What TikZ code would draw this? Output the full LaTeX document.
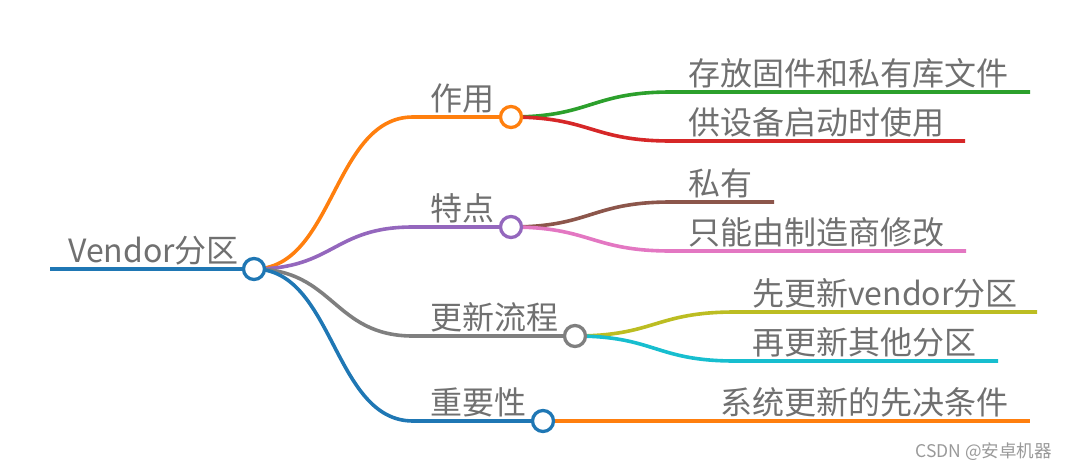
\documentclass[tikz,border=0pt]{standalone}
\usepackage{fontspec}
\setmainfont{Noto Sans CJK SC}
\usetikzlibrary{backgrounds}
\definecolor{textgray}{RGB}{112,112,112}
\definecolor{cblue}{RGB}{31,119,180}
\definecolor{corange}{RGB}{255,127,14}
\definecolor{cpurple}{RGB}{148,103,189}
\definecolor{cgray}{RGB}{127,127,127}
\definecolor{cbrown}{RGB}{140,86,75}
\definecolor{cpink}{RGB}{227,119,194}
\definecolor{colive}{RGB}{188,189,34}
\definecolor{ccyan}{RGB}{23,190,207}
\definecolor{cgreen}{RGB}{44,160,44}
\definecolor{cred}{RGB}{214,39,40}
\begin{document}
\begin{tikzpicture}[x=1pt,y=-1pt,
  txt/.style={font=\fontsize{32}{32}\selectfont, text=textgray, inner sep=0pt, anchor=base west},
  dot/.style={circle, draw, fill=white, line width=3.3pt, minimum size=21pt, inner sep=0pt},
  br/.style={line width=3.6pt}]
\useasboundingbox (0,0) rectangle (1067,466);

% root
\coordinate (r0) at (50,269);
\node[dot, draw=cblue] (root) at (254,269) {};
\node[txt] (troot) at (68,262) {Vendor分区};

% level 1
\coordinate (h1) at (413,117);
\coordinate (h2) at (413,227);
\coordinate (h3) at (413,336);
\coordinate (h4) at (413,421);
\node[dot, draw=corange] (n1) at (511,117) {};
\node[dot, draw=cpurple] (n2) at (511,227) {};
\node[dot, draw=cgray]   (n3) at (575,336) {};
\node[dot, draw=cblue]   (n4) at (543,421) {};
\node[txt] (t1) at (430,110) {作用};
\node[txt] (t2) at (430,220) {特点};
\node[txt] (t3) at (430,329) {更新流程};
\node[txt] (t4) at (430,414) {重要性};

% level 2
\coordinate (h11) at (671,92);   \coordinate (e11) at (1030,92);
\coordinate (h12) at (671,141);  \coordinate (e12) at (965,141);
\coordinate (h21) at (671,202);  \coordinate (e21) at (774,202);
\coordinate (h22) at (671,251);  \coordinate (e22) at (966,251);
\coordinate (h31) at (735,312);  \coordinate (e31) at (1037,312);
\coordinate (h32) at (735,361);  \coordinate (e32) at (998,361);
\coordinate (e41) at (1030,421);
\node[txt] (t11) at (688,85)  {存放固件和私有库文件};
\node[txt] (t12) at (688,134) {供设备启动时使用};
\node[txt] (t21) at (688,195) {私有};
\node[txt] (t22) at (688,244) {只能由制造商修改};
\node[txt] (t31) at (752,305) {先更新vendor分区};
\node[txt] (t32) at (752,354) {再更新其他分区};
\node[txt] (t41) at (720,414) {系统更新的先决条件};

\node[font=\fontsize{17.5}{17.5}\selectfont, text=black!40, inner sep=0pt, anchor=base east] (wm) at (1052,457) {CSDN @安卓机器};

\begin{scope}[on background layer]
  \draw[br, cblue] (r0) -- (root.center);
  \draw[br, corange] (root.center) .. controls +(80,0) and +(-80,0) .. (h1) -- (n1.center);
  \draw[br, cpurple] (root.center) .. controls +(80,0) and +(-80,0) .. (h2) -- (n2.center);
  \draw[br, cgray]   (root.center) .. controls +(80,0) and +(-80,0) .. (h3) -- (n3.center);
  \draw[br, cblue]   (root.center) .. controls +(80,0) and +(-80,0) .. (h4) -- (n4.center);
  \draw[br, cgreen]  (n1.center) .. controls +(80,0) and +(-80,0) .. (h11) -- (e11);
  \draw[br, cred]    (n1.center) .. controls +(80,0) and +(-80,0) .. (h12) -- (e12);
  \draw[br, cbrown]  (n2.center) .. controls +(80,0) and +(-80,0) .. (h21) -- (e21);
  \draw[br, cpink]   (n2.center) .. controls +(80,0) and +(-80,0) .. (h22) -- (e22);
  \draw[br, colive]  (n3.center) .. controls +(80,0) and +(-80,0) .. (h31) -- (e31);
  \draw[br, ccyan]   (n3.center) .. controls +(80,0) and +(-80,0) .. (h32) -- (e32);
  \draw[br, corange] (n4.center) -- (e41);
\end{scope}
\end{tikzpicture}
\end{document}
